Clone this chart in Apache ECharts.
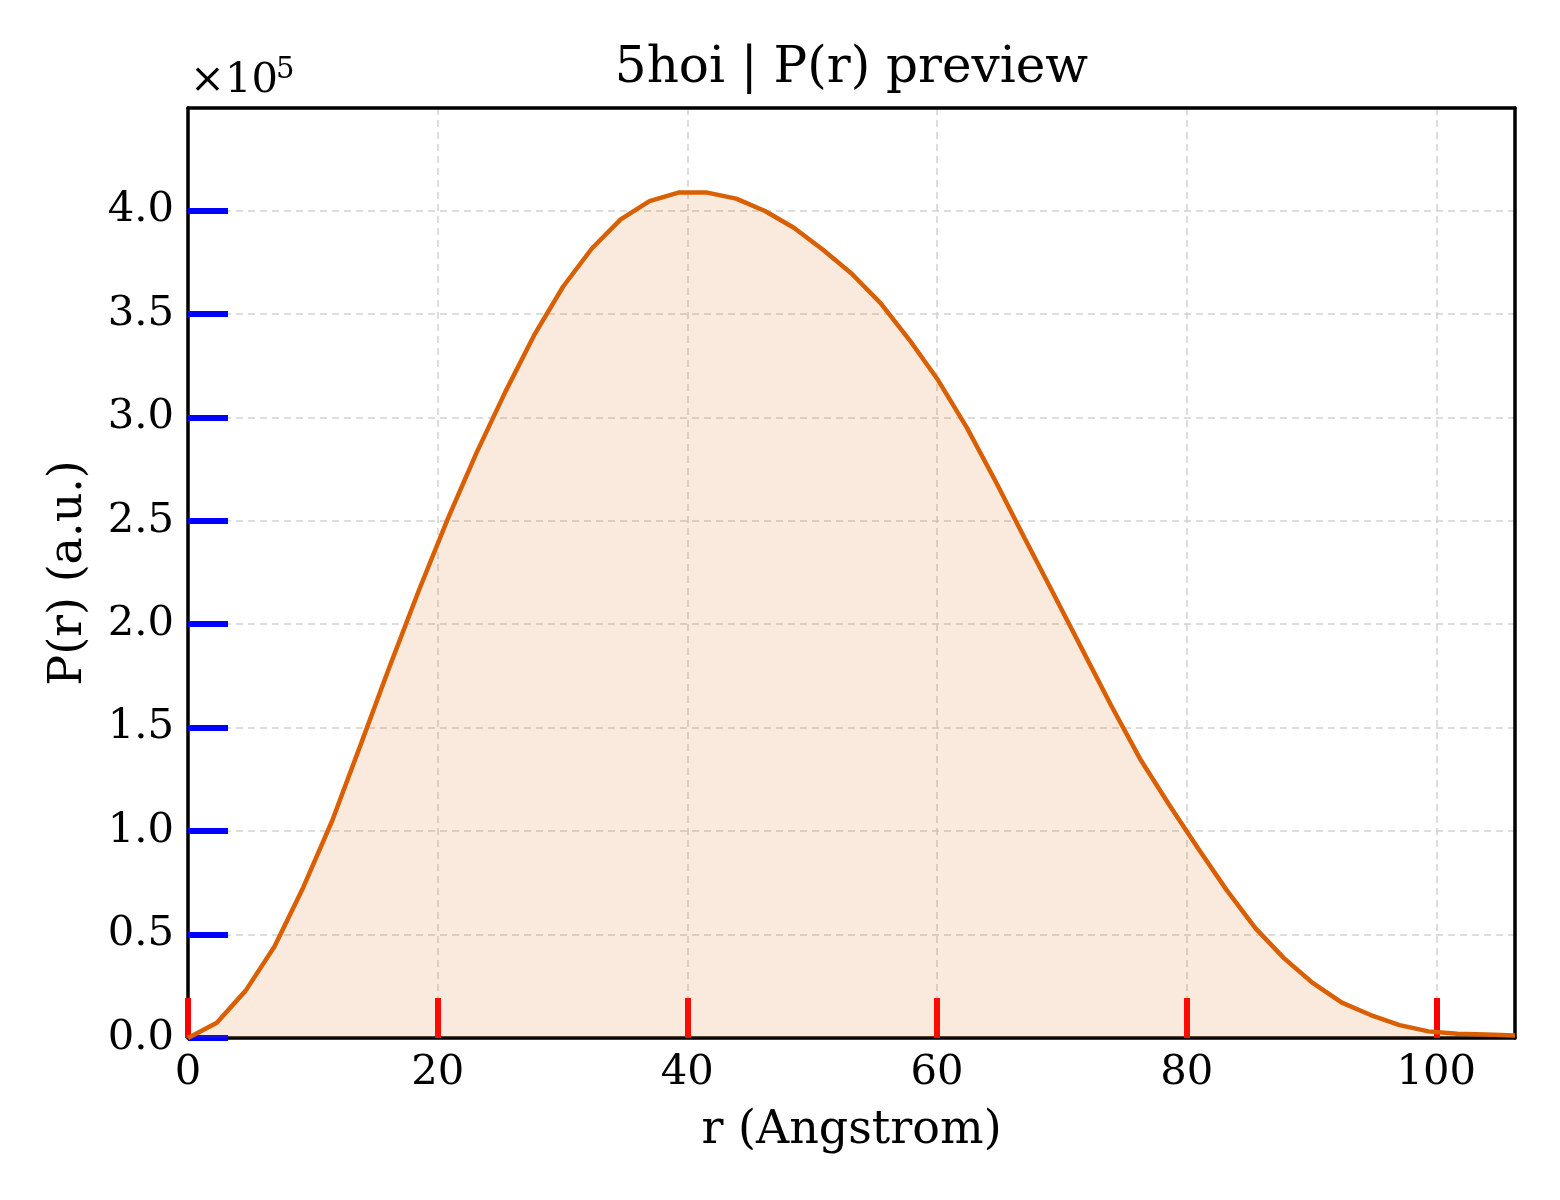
<!DOCTYPE html>
<html>
<head>
<meta charset="utf-8">
<script src="https://cdn.jsdelivr.net/npm/echarts@6/dist/echarts.min.js"></script>
<style>
  html, body { margin: 0; padding: 0; background: #fff; }
  #chart { width: 1560px; height: 1200px; }
</style>
</head>
<body>
<div id="chart"></div>
<script>
// r values (Angstrom)
const rValues = [0, 2.31, 4.62, 6.93, 9.24, 11.55, 13.87, 16.18, 18.49, 20.80,
  23.11, 25.42, 27.73, 30.04, 32.35, 34.66, 36.97, 39.28, 41.60, 43.91,
  46.22, 48.53, 50.84, 53.15, 55.46, 57.77, 60.08, 62.39, 64.70, 67.01,
  69.33, 71.64, 73.95, 76.26, 78.57, 80.88, 83.19, 85.50, 87.81, 90.12,
  92.43, 94.74, 97.06, 99.37, 101.68, 103.99, 106.30];
// P(r) values (a.u.)
const prValues = [0, 7400, 22900, 44200, 72900, 105000, 142400, 180000, 216300, 250800,
  282800, 312300, 339700, 363100, 381600, 395700, 404500, 408600, 408600, 405700,
  399700, 391600, 381100, 369500, 355300, 337600, 318000, 295000, 269000, 241700,
  214700, 187700, 160700, 135000, 113000, 92000, 71600, 53100, 38500, 26500,
  17100, 11100, 6200, 3200, 2000, 1700, 1200];
const xTicks = [0, 20, 40, 60, 80, 100];
const yTicks = [0, 50000, 100000, 150000, 200000, 250000, 300000, 350000, 400000];

const titleText = '5hoi | P(r) preview';
const xName = 'r (Angstrom)';
const yName = 'P(r) (a.u.)';

const serif = 'DejaVu Serif';
const seriesData = rValues.map((r, i) => [r, prValues[i]]);

const X_MIN = 0, X_MAX = 106.3, Y_MIN = 0, Y_MAX = 449500;
const spineStyle = { color: '#000', width: 3.5 };
const gridLineStyle = { color: '#d2d2d2', width: 1.5, type: [7, 5] };

const chart = echarts.init(document.getElementById('chart'));
chart.setOption({
  animation: false,
  title: {
    text: titleText,
    left: 851.5,
    top: 44,
    textAlign: 'center',
    padding: 0,
    textStyle: { fontFamily: serif, fontSize: 50, fontWeight: 'normal', color: '#000' }
  },
  grid: { left: 188, right: 45, top: 108, bottom: 162 },
  xAxis: [{
    type: 'value',
    position: 'bottom',
    min: X_MIN, max: X_MAX, interval: 20,
    name: xName,
    nameLocation: 'middle',
    nameGap: 70,
    nameTextStyle: { fontFamily: serif, fontSize: 46, color: '#000' },
    axisLine: { show: true, onZero: false, lineStyle: spineStyle },
    axisTick: { show: true, inside: true, length: 40, lineStyle: { color: 'red', width: 6 } },
    axisLabel: { margin: 14, fontFamily: serif, fontSize: 41.7, color: '#000', showMaxLabel: false },
    splitLine: { show: true, showMinLine: false, showMaxLine: false, lineStyle: gridLineStyle }
  }, {
    type: 'value',
    position: 'top',
    min: X_MIN, max: X_MAX, interval: 20,
    axisLine: { show: true, onZero: false, lineStyle: spineStyle },
    axisTick: { show: false },
    axisLabel: { show: false },
    splitLine: { show: false }
  }],
  yAxis: [{
    type: 'value',
    position: 'left',
    min: Y_MIN, max: Y_MAX, interval: 50000,
    name: yName,
    nameLocation: 'middle',
    nameRotate: 90,
    nameGap: 96,
    nameTextStyle: { fontFamily: serif, fontSize: 46, color: '#000' },
    axisLine: { show: true, onZero: false, lineStyle: spineStyle },
    axisTick: { show: true, inside: true, length: 40, lineStyle: { color: 'blue', width: 6 } },
    axisLabel: {
      margin: 14, fontFamily: serif, fontSize: 41.7, color: '#000', showMaxLabel: false,
      formatter: v => (v / 1e5).toFixed(1)
    },
    splitLine: { show: true, showMinLine: false, showMaxLine: false, lineStyle: gridLineStyle }
  }, {
    type: 'value',
    position: 'right',
    min: Y_MIN, max: Y_MAX, interval: 50000,
    axisLine: { show: true, onZero: false, lineStyle: spineStyle },
    axisTick: { show: false },
    axisLabel: { show: false },
    splitLine: { show: false }
  }],
  graphic: [
    { type: 'text', left: 190, top: 60, style: { text: '×10', fontFamily: serif, fontSize: 41.7, fill: '#000' } },
    { type: 'text', left: 276, top: 56, style: { text: '5', fontFamily: serif, fontSize: 29, fill: '#000' } }
  ],
  series: [{
    type: 'line',
    xAxisIndex: 0,
    yAxisIndex: 0,
    data: seriesData,
    showSymbol: false,
    lineStyle: { color: '#d95f02', width: 4.5 },
    itemStyle: { color: '#d95f02' },
    areaStyle: { color: '#d95f02', opacity: 0.13 }
  }]
});
</script>
</body>
</html>
